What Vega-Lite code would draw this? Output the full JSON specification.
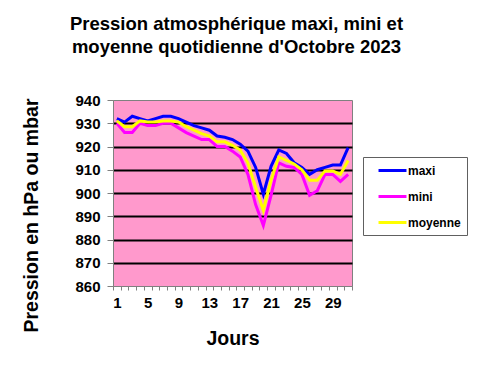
{
  "$schema": "https://vega.github.io/schema/vega-lite/v6.json",
  "width": 239,
  "height": 186,
  "autosize": {"type": "none"},
  "padding": {"left": 113, "top": 100, "right": 130, "bottom": 87},
  "background": "white",
  "config": {
    "font": "Liberation Sans",
    "view": {"stroke": "#808080", "strokeWidth": 1, "fill": "#FF99CC"}
  },
  "title": {
    "text": ["Pression atmosphérique maxi, mini et", "moyenne quotidienne d'Octobre 2023"],
    "font": "Liberation Sans",
    "fontSize": 18.5,
    "fontWeight": "bold",
    "color": "black",
    "anchor": "middle",
    "lineHeight": 23,
    "offset": 37,
    "dx": 4
  },
  "data": {
    "values": [
      {"jour": 1, "maxi": 932, "mini": 930, "moyenne": 931},
      {"jour": 2, "maxi": 930.5, "mini": 926, "moyenne": 928.5},
      {"jour": 3, "maxi": 933, "mini": 926, "moyenne": 928.5},
      {"jour": 4, "maxi": 932, "mini": 930, "moyenne": 931},
      {"jour": 5, "maxi": 931, "mini": 929, "moyenne": 930.5},
      {"jour": 6, "maxi": 932, "mini": 929, "moyenne": 930.5},
      {"jour": 7, "maxi": 933, "mini": 930, "moyenne": 931},
      {"jour": 8, "maxi": 933, "mini": 930, "moyenne": 931},
      {"jour": 9, "maxi": 932, "mini": 928, "moyenne": 930.5},
      {"jour": 10, "maxi": 930.5, "mini": 926, "moyenne": 928.5},
      {"jour": 11, "maxi": 929, "mini": 924.5, "moyenne": 927},
      {"jour": 12, "maxi": 928, "mini": 923, "moyenne": 925.5},
      {"jour": 13, "maxi": 927, "mini": 923, "moyenne": 924.5},
      {"jour": 14, "maxi": 924.5, "mini": 920, "moyenne": 922},
      {"jour": 15, "maxi": 924, "mini": 920, "moyenne": 922},
      {"jour": 16, "maxi": 923, "mini": 918, "moyenne": 920.5},
      {"jour": 17, "maxi": 921, "mini": 915.5, "moyenne": 918.5},
      {"jour": 18, "maxi": 918, "mini": 908, "moyenne": 913},
      {"jour": 19, "maxi": 911, "mini": 895, "moyenne": 902.5},
      {"jour": 20, "maxi": 899.5, "mini": 886, "moyenne": 892.5},
      {"jour": 21, "maxi": 911.5, "mini": 899, "moyenne": 905.5},
      {"jour": 22, "maxi": 918.5, "mini": 913, "moyenne": 915.5},
      {"jour": 23, "maxi": 917, "mini": 911.5, "moyenne": 914},
      {"jour": 24, "maxi": 913, "mini": 911, "moyenne": 912.5},
      {"jour": 25, "maxi": 911, "mini": 908, "moyenne": 910},
      {"jour": 26, "maxi": 908, "mini": 899, "moyenne": 905.5},
      {"jour": 27, "maxi": 910, "mini": 901, "moyenne": 905.5},
      {"jour": 28, "maxi": 911, "mini": 908, "moyenne": 909.5},
      {"jour": 29, "maxi": 912, "mini": 908, "moyenne": 909.5},
      {"jour": 30, "maxi": 912, "mini": 905, "moyenne": 908},
      {"jour": 31, "maxi": 919.5, "mini": 908, "moyenne": 914}
    ]
  },
  "transform": [{"fold": ["maxi", "mini", "moyenne"], "as": ["serie", "pression"]}],
  "mark": {"type": "line", "strokeWidth": 3, "clip": true},
  "encoding": {
    "x": {
      "field": "jour",
      "type": "quantitative",
      "scale": {"domain": [0.5, 31.5], "nice": false, "zero": false},
      "axis": {
        "title": "Jours",
        "titleFont": "Liberation Sans",
        "titleFontSize": 19.5,
        "titleFontWeight": "bold",
        "titleColor": "black",
        "titleX": 119.5,
        "titleY": 52,
        "titleBaseline": "middle",
        "values": [0.5, 1, 1.5, 2.5, 3.5, 4.5, 5, 5.5, 6.5, 7.5, 8.5, 9, 9.5, 10.5, 11.5, 12.5, 13, 13.5, 14.5, 15.5, 16.5, 17, 17.5, 18.5, 19.5, 20.5, 21, 21.5, 22.5, 23.5, 24.5, 25, 25.5, 26.5, 27.5, 28.5, 29, 29.5, 30.5, 31.5],
        "labelExpr": "datum.value % 1 == 0 ? datum.value : ''",
        "tickOpacity": {"condition": {"test": "datum.value % 1 == 0", "value": 0}, "value": 1},
        "labelFont": "Liberation Sans",
        "labelFontSize": 15,
        "labelFontWeight": "bold",
        "labelColor": "black",
        "labelPadding": 5,
        "labelFlush": false,
        "labelOverlap": false,
        "tickColor": "#808080",
        "tickSize": 4,
        "domainColor": "#808080",
        "grid": false
      }
    },
    "y": {
      "field": "pression",
      "type": "quantitative",
      "scale": {"domain": [860, 940], "nice": false, "zero": false},
      "axis": {
        "title": "Pression en hPa ou mbar",
        "titleFont": "Liberation Sans",
        "titleFontSize": 19.5,
        "titleFontWeight": "bold",
        "titleColor": "black",
        "titleAngle": -90,
        "titleX": -82,
        "titleY": 115,
        "titleAlign": "center",
        "titleBaseline": "middle",
        "values": [860, 870, 880, 890, 900, 910, 920, 930, 940],
        "labelFont": "Liberation Sans",
        "labelFontSize": 15,
        "labelFontWeight": "bold",
        "labelColor": "black",
        "labelPadding": 7,
        "tickColor": "#808080",
        "tickSize": 6,
        "domainColor": "#808080",
        "grid": true,
        "gridColor": "black",
        "gridWidth": 2,
        "gridOpacity": {"condition": {"test": "datum.value == 860 || datum.value == 940", "value": 0}, "value": 1}
      }
    },
    "color": {
      "field": "serie",
      "type": "nominal",
      "scale": {"domain": ["maxi", "mini", "moyenne"], "range": ["#0000FF", "#FF00FF", "#FFFF00"]},
      "legend": {
        "title": null,
        "orient": "none",
        "legendX": 250,
        "legendY": 57,
        "strokeColor": "#606060",
        "padding": 6,
        "symbolType": "M-2.33,0H2.33",
        "symbolSize": 144,
        "symbolStrokeWidth": 3,
        "symbolOffset": 16,
        "rowPadding": 12,
        "labelOffset": 8,
        "labelFont": "Liberation Sans",
        "labelFontSize": 12,
        "labelFontWeight": "bold",
        "labelColor": "black",
        "fillColor": "white"
      }
    }
  }
}
